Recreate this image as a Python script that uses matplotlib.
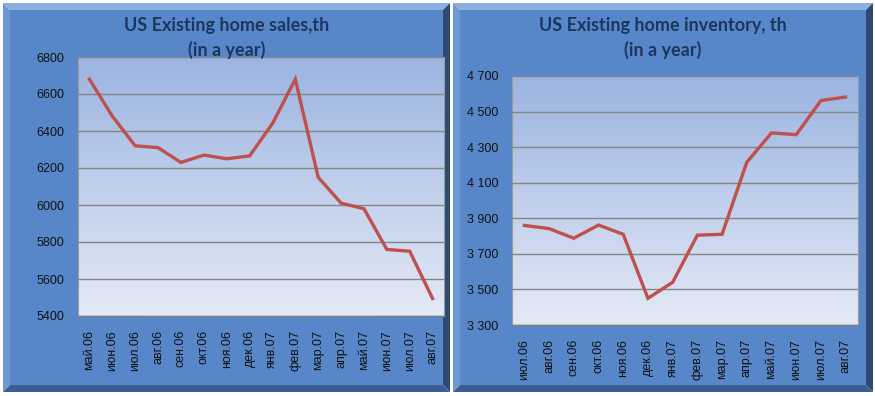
import matplotlib
matplotlib.use("Agg")
import matplotlib.pyplot as plt
import numpy as np
from matplotlib.patches import Rectangle, Polygon
from matplotlib.ticker import FuncFormatter
from matplotlib.colors import LinearSegmentedColormap

# ---- data ----
sales_months = ["май.06", "июн.06", "июл.06", "авг.06", "сен.06", "окт.06", "ноя.06", "дек.06",
                "янв.07", "фев.07", "мар.07", "апр.07", "май.07", "июн.07", "июл.07", "авг.07"]
sales_values = [6680, 6480, 6320, 6310, 6230, 6270, 6250, 6265,
                6440, 6680, 6150, 6010, 5980, 5760, 5750, 5495]
sales_ticks = [5400, 5600, 5800, 6000, 6200, 6400, 6600, 6800]

inv_months = ["июл.06", "авг.06", "сен.06", "окт.06", "ноя.06", "дек.06", "янв.07",
              "фев.07", "мар.07", "апр.07", "май.07", "июн.07", "июл.07", "авг.07"]
inv_values = [3860, 3842, 3788, 3862, 3810, 3450, 3540,
              3805, 3810, 4215, 4380, 4370, 4562, 4582]
inv_ticks = [3300, 3500, 3700, 3900, 4100, 4300, 4500, 4700]

title_left = "US Existing home sales,th\n(in a year)"
title_right = "US Existing home inventory, th\n(in a year)"

W, H = 875, 396
fig = plt.figure(figsize=(W / 100, H / 100), dpi=100)
fig.patch.set_facecolor("white")

FRAME = "#5787C9"
LIGHT = "#8AB0E2"
DARK = "#2C4A75"
TITLE_C = "#1B365F"
LINE_C = "#C0504D"


def px(x, y):
    return (x / W, 1 - y / H)


def frame(x0, y0, x1, y1, b=7):
    def poly(pts, c):
        fig.patches.append(Polygon([px(*p) for p in pts], closed=True, facecolor=c,
                                   edgecolor="none", transform=fig.transFigure, zorder=-5))
    poly([(x0, y0), (x1, y0), (x1 - b, y0 + b), (x0 + b, y0 + b)], LIGHT)   # top
    poly([(x0, y0), (x0 + b, y0 + b), (x0 + b, y1 - b), (x0, y1)], "#6E98D2")  # left
    poly([(x1, y0), (x1, y1), (x1 - b, y1 - b), (x1 - b, y0 + b)], DARK)   # right
    poly([(x0, y1), (x1, y1), (x1 - b, y1 - b), (x0 + b, y1 - b)], "#3A5E93")  # bottom
    fig.patches.append(Rectangle(px(x0 + b, y1 - b), (x1 - x0 - 2 * b) / W, (y1 - y0 - 2 * b) / H,
                                 facecolor=FRAME, edgecolor="none",
                                 transform=fig.transFigure, zorder=-5))


frame(3, 3, 450, 392)
frame(453, 3, 873, 392)

grad = np.linspace(0, 1, 256).reshape(-1, 1)
cmap = LinearSegmentedColormap.from_list("g", ["#9BB4E1", "#E4EAF6"])


def make_axes(rect_px, months, values, ticks, fmt, title, title_x):
    x0, y0, x1, y1 = rect_px
    ax = fig.add_axes([x0 / W, 1 - y1 / H, (x1 - x0) / W, (y1 - y0) / H])
    ax.set_facecolor("none")
    n = len(months)
    ax.set_xlim(-0.5, n - 0.5)
    ax.set_ylim(ticks[0], ticks[-1])
    ax.imshow(grad, aspect="auto", cmap=cmap, extent=(-0.5, n - 0.5, ticks[0], ticks[-1]),
              origin="upper", zorder=0)
    ax.set_yticks(ticks)
    ax.yaxis.set_major_formatter(FuncFormatter(fmt))
    ax.grid(axis="y", color="#868686", linewidth=1.0, zorder=1)
    ax.set_axisbelow(False)
    ax.set_xticks(range(n))
    ax.set_xticklabels(months, rotation=90, fontsize=9, family="Liberation Sans", color="#111111")
    for lbl in ax.get_yticklabels():
        lbl.set_fontsize(9)
        lbl.set_family("Liberation Sans")
        lbl.set_color("#111111")
    ax.tick_params(axis="both", length=0)
    ax.tick_params(axis="y", pad=10)
    ax.tick_params(axis="x", pad=10)
    for s in ["top", "right", "left"]:
        ax.spines[s].set_color("#9A9A9A")
        ax.spines[s].set_linewidth(0.8)
    ax.spines["bottom"].set_color("#7F7F7F")
    ax.spines["bottom"].set_linewidth(1.0)
    ax.plot(range(n), values, color=LINE_C, linewidth=2.4, zorder=3, solid_joinstyle="miter")
    fig.text(title_x / W, 1 - 17 / H, title, ha="center", va="top", fontsize=13,
             fontweight="bold", family="Lato", color=TITLE_C, linespacing=1.45)
    return ax


make_axes((78, 57, 444, 316), sales_months, sales_values, sales_ticks,
          lambda v, p: f"{int(v)}", title_left, 227)
make_axes((512, 76, 858, 325), inv_months, inv_values, inv_ticks,
          lambda v, p: f"{int(v):,}".replace(",", " "), title_right, 663)

fig.savefig("out.png", dpi=100, facecolor="white")
